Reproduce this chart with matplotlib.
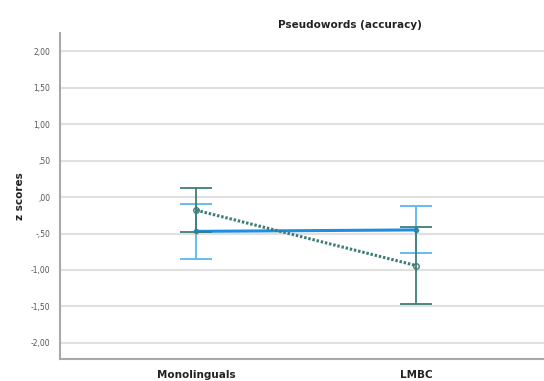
import numpy as np
import matplotlib.pyplot as plt

# data
groups = ['Monolinguals', 'LMBC']
teal_mean = [-0.18, -0.94]
teal_low = [-0.48, -1.47]
teal_high = [0.12, -0.41]
blue_mean = [-0.47, -0.45]
blue_low = [-0.85, -0.77]
blue_high = [-0.09, -0.12]
yticks = [2.0, 1.5, 1.0, 0.5, 0.0, -0.5, -1.0, -1.5, -2.0]
ytick_labels = ['2,00', '1,50', '1,00', ',50', ',00', '-,50', '-1,00', '-1,50', '-2,00']

teal = '#3e7d78'
blue_err = '#5ab8ec'
blue_line = '#1f8ee0'

fig = plt.figure(figsize=(5.44, 3.81), dpi=100)
ax = fig.add_axes([0.110, 0.058, 0.89, 0.855])

x = np.arange(len(groups))

for y in yticks:
    ax.axhline(y, color='#e0e0e0', lw=1.5, zorder=0)

# light blue series
ax.errorbar(x, blue_mean,
            yerr=[np.array(blue_mean) - np.array(blue_low), np.array(blue_high) - np.array(blue_mean)],
            fmt='none', ecolor=blue_err, elinewidth=1.3, capsize=11.5, capthick=1.3, zorder=2)
ax.plot(x, blue_mean, color=blue_line, lw=2.2, marker='o', ms=3, mfc=blue_line, mec=blue_line, zorder=3)

# dark teal series
ax.errorbar(x, teal_mean,
            yerr=[np.array(teal_mean) - np.array(teal_low), np.array(teal_high) - np.array(teal_mean)],
            fmt='none', ecolor=teal, elinewidth=1.3, capsize=11.5, capthick=1.3, zorder=4)
ax.plot(x, teal_mean, color=teal, lw=2.2, ls=(0, (0.8, 0.6)), marker='o', ms=4,
        mfc='none', mec=teal, mew=1, zorder=5)

ax.set_xlim(-0.62, 1.58)
ax.set_ylim(-2.22, 2.25)
ax.set_yticks(yticks)
ax.set_yticklabels(ytick_labels, fontsize=5.5, color='#555555')
ax.set_xticks(x)
ax.set_xticklabels(groups, fontsize=7.5, fontweight='bold', color='#222222')
ax.tick_params(axis='x', length=0, pad=8)
ax.tick_params(axis='y', length=0, pad=7)

for s in ['top', 'right']:
    ax.spines[s].set_visible(False)
for s in ['left', 'bottom']:
    ax.spines[s].set_color('#a8a8a8')
    ax.spines[s].set_linewidth(1.5)

ax.set_ylabel('z scores', fontsize=7.5, fontweight='bold', color='#222222', labelpad=4)
fig.text(0.643, 0.935, 'Pseudowords (accuracy)', ha='center', va='center',
         fontsize=7.5, fontweight='bold', color='#222222')

fig.savefig('out.png', dpi=100)
